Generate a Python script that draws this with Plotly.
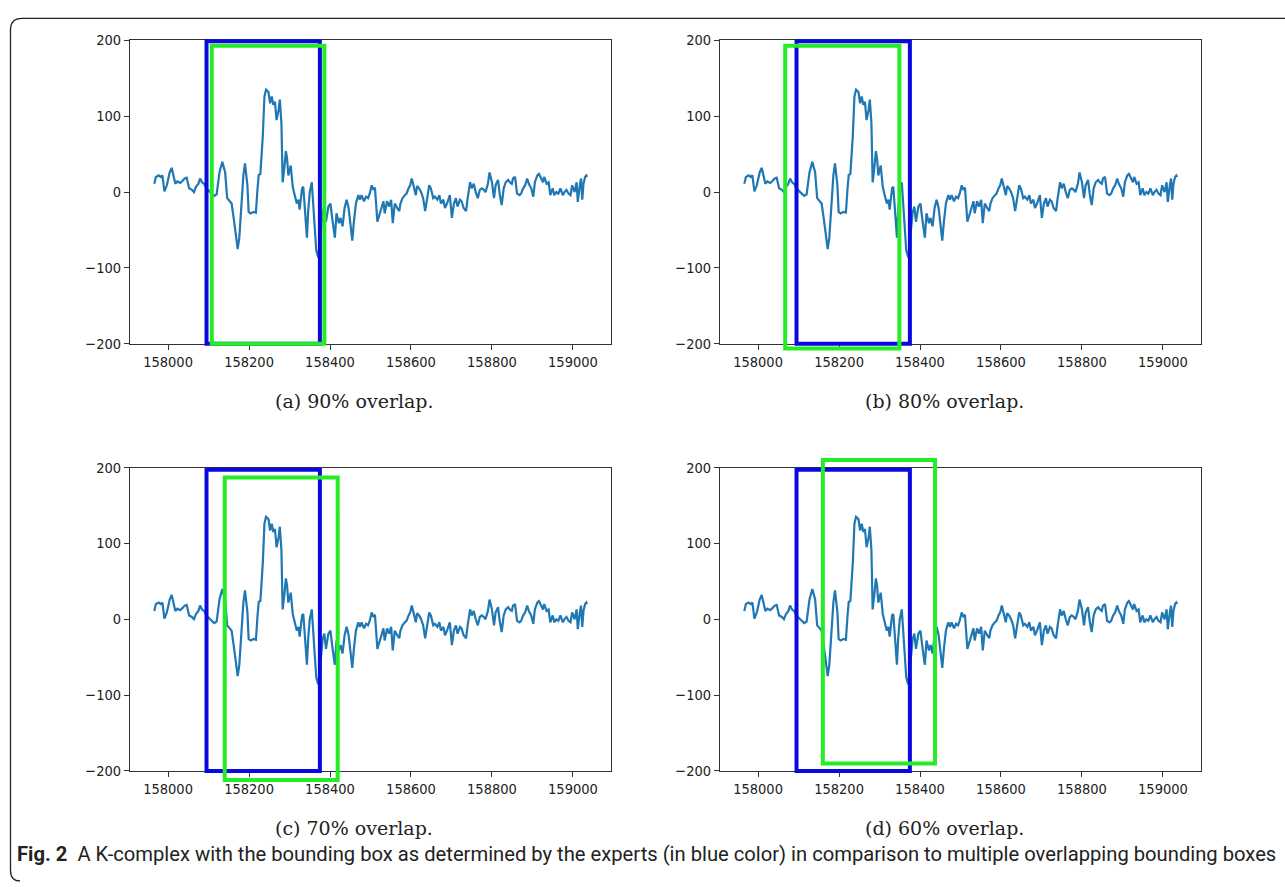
import plotly.graph_objects as go

W, H = 1285, 887

# ---- data (same EEG trace in all four panels) ----
sample = [
    157966, 157970, 157977, 157982, 157986, 157991, 157997, 158004, 158009, 158013,
    158018, 158023, 158030, 158036, 158041, 158046, 158052, 158059, 158064, 158069,
    158075, 158079, 158084, 158089, 158095, 158104, 158114, 158120, 158127, 158134,
    158141, 158146, 158152, 158157, 158162, 158168, 158172, 158176, 158181, 158186,
    158190, 158196, 158199, 158204, 158211, 158217, 158221, 158224, 158228, 158234,
    158238, 158242, 158248, 158252, 158256, 158260, 158264, 158268, 158273, 158276,
    158280, 158283, 158287, 158291, 158294, 158297, 158303, 158308, 158312, 158318,
    158322, 158325, 158331, 158334, 158339, 158343, 158346, 158350, 158355, 158359,
    158363, 158366, 158371, 158377, 158382, 158386, 158390, 158396, 158401, 158406,
    158412, 158416, 158422, 158426, 158431, 158436, 158441, 158446, 158451, 158455,
    158459, 158464, 158470, 158474, 158478, 158484, 158489, 158494, 158498, 158503,
    158507, 158511, 158517, 158527, 158532, 158535, 158541, 158546, 158551, 158555,
    158560, 158566, 158571, 158574, 158579, 158585, 158589, 158594, 158598, 158602,
    158607, 158612, 158615, 158620, 158625, 158630, 158635, 158640, 158645, 158649,
    158655, 158659, 158665, 158670, 158674, 158680, 158684, 158689, 158696, 158701,
    158706, 158711, 158715, 158721, 158725, 158730, 158736, 158740, 158746, 158750,
    158755, 158760, 158765, 158770, 158775, 158780, 158784, 158790, 158794, 158800,
    158805, 158809, 158815, 158819, 158824, 158829, 158834, 158840, 158844, 158849,
    158852, 158857, 158862, 158868, 158872, 158877, 158882, 158887, 158891, 158897,
    158902, 158906, 158912, 158916, 158922, 158926, 158929, 158935, 158940, 158944,
    158950, 158954, 158959, 158964, 158969, 158975, 158979, 158984, 158989, 158994,
    158998, 159004, 159009, 159012, 159017, 159020, 159023, 159026, 159030, 159033,
    159035,
]
amplitude = [
    11, 20, 22, 20, 22, 1, 9, 26, 32, 24,
    11, 14, 12, 15, 18, 19, 5, 3, 0, 7,
    11, 18, 13, 11, 5, 0, -5, -3, 26, 40,
    26, -8, -12, -15, -34, -60, -75, -60, -12, 22,
    38, 9, -26, -28, -26, -27, 5, 23, 24, 74,
    126, 135, 132, 117, 126, 115, 119, 95, 108, 122,
    91, 13, 31, 54, 44, 22, 35, 7, -2, -15,
    -10, -23, 5, 7, -30, -60, -26, 0, 13, -17,
    -51, -77, -86, -56, -26, -19, -39, -19, -15, -37,
    -60, -28, -41, -34, -45, -21, -10, -21, -47, -64,
    -39, -15, -4, -10, -4, -12, -6, -8, -2, 9,
    3, 6, -39, -23, -12, -28, -12, -19, -10, -41,
    -15, -21, -25, -15, -8, -4, -2, 5, 9, 18,
    5, -4, 8, 5, 0, -8, -25, -8, 9, 5,
    -8, -6, -10, -4, -15, -10, -21, -15, -4, -34,
    -15, -8, -19, -10, -12, -21, -25, -8, 13, 5,
    11, 0, -8, 3, 5, 3, 0, 11, 26, 13,
    -8, 9, 16, -2, -17, 5, 13, 16, 13, 11,
    18, 20, -2, -4, -2, 5, 9, 18, 11, 5,
    -6, 13, 22, 24, 18, 13, 20, 11, 13, -4,
    5, -4, 0, -2, 5, -4, 0, 3, -2, -4,
    9, 0, 13, -13, 9, 18, -10, 11, 20, 22,
    20,
]

x_ticks = [158000, 158200, 158400, 158600, 158800, 159000]
y_ticks = [-200, -100, 0, 100, 200]
x_range = [157906, 159094]
y_range = [-200, 200]

captions = ["(a) 90% overlap.", "(b) 80% overlap.", "(c) 70% overlap.", "(d) 60% overlap."]
# boxes: [x0, x1, y0, y1]
expert_boxes = [
    [158095, 158375, -200, 199],
    [158095, 158375, -200, 199],
    [158095, 158375, -200, 197],
    [158095, 158375, -200, 197],
]
overlap_boxes = [
    [158108, 158386, -200, 193],
    [158067, 158349, -206, 193],
    [158140, 158419, -212, 187],
    [158160, 158437, -190, 210],
]
fig_label = "Fig. 2"
fig_text = ("A K-complex with the bounding box as determined by the experts (in blue color) "
            "in comparison to multiple overlapping bounding boxes")

# ---- layout geometry (pixels) ----
panels_px = [(130, 611, 33, 342), (720, 1201, 33, 342),
             (130, 611, 468, 777), (720, 1201, 468, 777)]
caption_x_px = [354, 944, 354, 944]
caption_y_px = [400, 400, 835, 835]
PAD = 30  # extra clip room for boxes around each panel


def fx(px):
    return px / W


def fy(py):
    return 1 - py / H


fig = go.Figure()
layout = dict(
    width=W, height=H,
    margin=dict(l=0, r=0, t=0, b=0),
    paper_bgcolor="white",
    plot_bgcolor="rgba(0,0,0,0)",
    showlegend=False,
    shapes=[], annotations=[],
)

axis_common = dict(
    showline=True, mirror=True, linecolor="#333333", linewidth=1,
    ticks="outside", ticklen=5, tickwidth=1, tickcolor="#333333",
    showgrid=False, zeroline=False,
    tickfont=dict(family="DejaVu Sans Condensed, Open Sans", size=14.5, color="#222222"),
)

for i, (x0p, x1p, y0p, y1p) in enumerate(panels_px):
    n = i + 1
    xa = "xaxis" if n == 1 else f"xaxis{n}"
    ya = "yaxis" if n == 1 else f"yaxis{n}"
    xr = "x" if n == 1 else f"x{n}"
    yr = "y" if n == 1 else f"y{n}"
    ext_n = n + 4
    ya_ext = f"yaxis{ext_n}"
    yr_ext = f"y{ext_n}"

    layout[xa] = dict(axis_common, domain=[fx(x0p), fx(x1p)], range=x_range,
                      tickvals=x_ticks, tickformat="d", anchor=yr)
    layout[ya] = dict(axis_common, domain=[fy(y1p), fy(y0p)], range=y_range,
                      tickvals=y_ticks, anchor=xr)
    # extended invisible y axis with identical scale, larger clip area for the boxes
    units_per_px = (y_range[1] - y_range[0]) / (y1p - y0p)
    ext = PAD * units_per_px
    layout[ya_ext] = dict(domain=[fy(y1p + PAD), fy(y0p - PAD)],
                          range=[y_range[0] - ext, y_range[1] + ext],
                          visible=False, anchor=xr)

    fig.add_trace(go.Scatter(x=sample, y=amplitude, mode="lines",
                             line=dict(color="#1f77b4", width=2.2),
                             xaxis=xr, yaxis=yr, hoverinfo="skip"))
    fig.add_trace(go.Scatter(x=[x_range[0]], y=[0], mode="markers",
                             marker=dict(opacity=0), xaxis=xr, yaxis=yr_ext,
                             hoverinfo="skip"))

    for box, col in ((expert_boxes[i], "#0a0ae0"), (overlap_boxes[i], "#26ec26")):
        layout["shapes"].append(dict(
            type="rect", xref=xr, yref=yr_ext,
            x0=box[0], x1=box[1], y0=box[2], y1=box[3],
            line=dict(color=col, width=4), fillcolor="rgba(0,0,0,0)", layer="above"))

    layout["annotations"].append(dict(
        text=captions[i], xref="paper", yref="paper",
        x=fx(caption_x_px[i]), y=fy(caption_y_px[i]),
        xanchor="center", yanchor="middle", showarrow=False,
        font=dict(family="DejaVu Serif", size=19, color="#222222")))

layout["annotations"].append(dict(
    text=f"<b>{fig_label}</b>  {fig_text}", xref="paper", yref="paper",
    x=fx(15), y=fy(862), xanchor="left", yanchor="middle", showarrow=False,
    font=dict(family="Roboto", size=20.2, color="#222222")))

frame_path = (f"M {fx(1295)},{fy(10.5)} L {fx(22)},{fy(10.5)} "
              f"Q {fx(10.5)},{fy(10.5)} {fx(10.5)},{fy(22)} "
              f"L {fx(10.5)},{fy(878)} Q {fx(10.5)},{fy(889)} {fx(20)},{fy(889)}")
layout["shapes"].append(dict(type="path", xref="paper", yref="paper", path=frame_path,
                             line=dict(color="#222222", width=1.3)))

fig.update_layout(**layout)
fig.write_html("out.html",
               config={"displayModeBar": False},
               post_script="document.body.style.margin='0px';"
                           "document.body.style.overflow='hidden';")
